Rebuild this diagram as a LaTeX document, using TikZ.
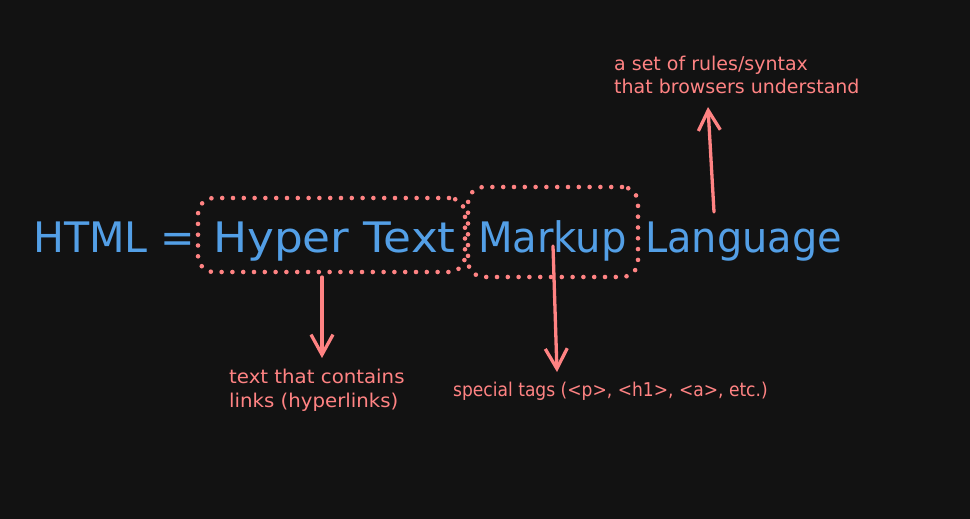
\documentclass[tikz,border=0pt]{standalone}
\usepackage{fontspec}
\setmainfont{DejaVu Sans}
\usetikzlibrary{arrows.meta}
\definecolor{bg}{HTML}{121212}
\definecolor{htmlblue}{HTML}{539FE6}
\definecolor{coral}{HTML}{FF8383}
\tikzset{
  maintext/.style={text=htmlblue, font=\fontsize{42}{50}\selectfont, inner sep=0pt, anchor=base west},
  notetext/.style={text=coral, font=\fontsize{19}{24}\selectfont, inner sep=0pt, anchor=base west, align=left},
  dotbox/.style={draw=coral, line width=4.6pt, line cap=round, dash pattern=on 0pt off 10.8pt, rounded corners=16pt, inner sep=0pt},
  arr/.style={draw=coral, line width=3.3pt, line cap=round, -{Straight Barb[length=20pt,width=22pt,line width=3.3pt]}}
}
\begin{document}
\begin{tikzpicture}[x=1pt,y=-1pt]
\fill[bg] (0,0) rectangle (970,519);
\useasboundingbox (0,0) rectangle (970,519);
% main line
\node[maintext] (html) at (33,252) {\scalebox{0.98}[1]{HTML =}};
\node[maintext] (hyper) at (213,252) {\scalebox{1.08}[1]{Hyper Text}};
\node[maintext] (markup) at (478,252) {\scalebox{0.955}[1]{Markup}};
\node[maintext] (lang) at (645,252) {\scalebox{0.95}[1]{Language}};
% dotted boxes
\node[dotbox, minimum width=267pt, minimum height=74pt] (box1) at (331.5,235) {};
\node[dotbox, minimum width=170pt, minimum height=90pt] (box2) at (553,232) {};
% notes
\node[notetext] (note1) at (229,407) {\scalebox{1.04}[1]{text that contains}\\\scalebox{1.04}[1]{links (hyperlinks)}};
\node[notetext] (note2) at (453,396) {\scalebox{0.9}[1]{special tags (<p>, <h1>, <a>, etc.)}};
\node[notetext] (note3) at (614,94) {a set of rules/syntax\\that browsers understand};
% arrows
\coordinate (a1s) at (322,277);
\coordinate (a1e) at (322,358);
\coordinate (a2s) at (553,246);
\coordinate (a2e) at (557,372);
\coordinate (a3s) at (714,212);
\coordinate (a3e) at (708,107);
\draw[arr] (a1s) -- (a1e);
\draw[arr] (a2s) -- (a2e);
\draw[arr] (a3s) -- (a3e);
\end{tikzpicture}
\end{document}
